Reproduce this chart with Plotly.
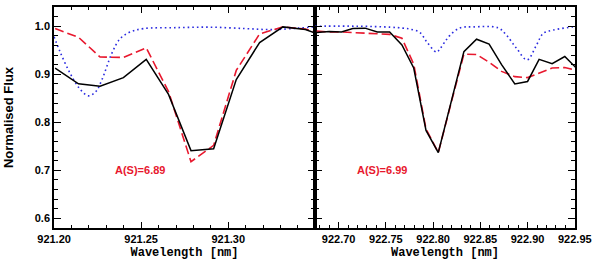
import plotly.graph_objects as go

# ---- data: left panel (921.2 nm line) ----
wl_left = [921.2006, 921.2140, 921.2264, 921.2398, 921.2529, 921.2657, 921.2786,
           921.2916, 921.3046, 921.3180, 921.3314, 921.3443, 921.3574]
obs_left = [0.9126, 0.880, 0.875, 0.893, 0.931, 0.858, 0.741,
            0.745, 0.889, 0.966, 0.9986, 0.993, 0.976]
syn_left = [0.995, 0.977, 0.936, 0.935, 0.955, 0.864, 0.718,
            0.752, 0.908, 0.984, 0.9986, 0.994, 0.980]
tel_wl_left = [921.2000, 921.2034, 921.2092, 921.2149, 921.2197, 921.2240, 921.2274,
               921.2332, 921.2379, 921.2437, 921.2513, 921.2700, 921.2900, 921.3100,
               921.3250, 921.3400, 921.3500]
tel_left = [0.978, 0.947, 0.902, 0.869, 0.855, 0.864, 0.888,
            0.944, 0.974, 0.988, 0.995, 0.997, 0.998, 0.995,
            0.993, 0.996, 0.999]

# ---- data: right panel (922.8 nm line) ----
wl_right = [922.6768, 922.6900, 922.7030, 922.7150, 922.7280, 922.7410, 922.7540,
            922.7670, 922.7795, 922.7925, 922.8055, 922.8196, 922.8326, 922.8460,
            922.8593, 922.8725, 922.8865, 922.9000, 922.9122, 922.9260, 922.9394,
            922.9525]
obs_right = [0.987, 0.989, 0.988, 0.995, 0.996, 0.988, 0.988,
             0.961, 0.913, 0.783, 0.737, 0.844, 0.947, 0.973,
             0.963, 0.920, 0.880, 0.885, 0.931, 0.922, 0.937,
             0.911]
syn_right = [0.990, 0.988, 0.988, 0.987, 0.986, 0.984, 0.983,
             0.975, 0.921, 0.786, 0.737, 0.844, 0.942, 0.941,
             0.925, 0.906, 0.895, 0.893, 0.902, 0.913, 0.914,
             0.908]
tel_wl_right = [922.6750, 922.7200, 922.7550, 922.7680, 922.7755, 922.7860, 922.7931,
                922.8037, 922.8072, 922.8120, 922.8178, 922.8284, 922.8424, 922.8689,
                922.8778, 922.8883, 922.8995, 922.9095, 922.9165, 922.9270, 922.9482,
                922.9510]
tel_right = [1.000, 1.000, 0.998, 0.996, 0.994, 0.987, 0.968,
             0.946, 0.953, 0.966, 0.981, 0.9965, 0.9986, 0.9965,
             0.981, 0.954, 0.930, 0.961, 0.985, 0.992, 0.9986,
             0.999]

labels = ["A(S)=6.89", "A(S)=6.99"]
label_pos = [(921.234, 0.700), (922.7173, 0.700)]

BLUE = "#2b2be0"
RED = "#e8182e"
tickfont = dict(family="Liberation Sans, Arial, sans-serif", size=11, color="black", weight="bold")
titlefont = dict(family="Liberation Mono, Courier New, monospace", size=12, color="black", weight="bold")

fig = go.Figure()
for xa, ya, wl, obs, syn, twl, tel in [
    ("x", "y", wl_left, obs_left, syn_left, tel_wl_left, tel_left),
    ("x2", "y2", wl_right, obs_right, syn_right, tel_wl_right, tel_right),
]:
    fig.add_trace(go.Scatter(x=twl, y=tel, mode="lines", xaxis=xa, yaxis=ya,
                             line=dict(color=BLUE, width=1.6, dash="1.6px,3px", shape="spline"),
                             showlegend=False))
    fig.add_trace(go.Scatter(x=wl, y=syn, mode="lines", xaxis=xa, yaxis=ya,
                             line=dict(color=RED, width=1.6, dash="9px,4px"),
                             showlegend=False))
    fig.add_trace(go.Scatter(x=wl, y=obs, mode="lines", xaxis=xa, yaxis=ya,
                             line=dict(color="black", width=1.5),
                             showlegend=False))

common_x = dict(showline=True, linecolor="black", linewidth=1.5, mirror="allticks",
                ticks="inside", ticklen=6, tickwidth=1, tickcolor="black",
                showgrid=False, zeroline=False, tickformat=".2f", dtick=0.05,
                tickfont=tickfont, title=dict(text="Wavelength [nm]", font=titlefont, standoff=4),
                minor=dict(ticks="inside", ticklen=3, tickwidth=1, dtick=0.01, tickcolor="black", showgrid=False))
common_y = dict(showline=True, linecolor="black", linewidth=1.5, mirror="allticks",
                ticks="inside", ticklen=7, tickwidth=1, tickcolor="black",
                showgrid=False, zeroline=False, range=[0.58, 1.04], dtick=0.1, tick0=0.6,
                tickformat=".1f", tickfont=tickfont,
                minor=dict(ticks="inside", ticklen=4, tickwidth=1, dtick=0.02, tick0=0.6,
                           tickcolor="black", showgrid=False))

split = 261 / 521
fig.update_layout(
    width=600, height=263,
    margin=dict(l=54, r=25, t=5, b=35),
    paper_bgcolor="white", plot_bgcolor="white",
    xaxis=dict(common_x, domain=[0, split], range=[921.19995, 921.3498], tick0=921.20, anchor="y"),
    xaxis2=dict(common_x, domain=[split, 1], range=[922.675, 922.9502], tick0=922.70, anchor="y2"),
    yaxis=dict(common_y, anchor="x",
               title=dict(text="Normalised Flux",
                          font=dict(family="Liberation Sans, Arial, sans-serif", size=13,
                                    color="black", weight="bold"), standoff=18)),
    yaxis2=dict(common_y, anchor="x2", showticklabels=False),
)

for (lx, ly), txt, xr, yr in zip(label_pos, labels, ["x", "x2"], ["y", "y2"]):
    fig.add_annotation(x=lx, y=ly, xref=xr, yref=yr, text=txt, showarrow=False,
                       xanchor="left", yanchor="middle",
                       font=dict(family="Liberation Sans, Arial, sans-serif", size=11,
                                 color=RED, weight="bold"))

fig.write_html("out.html", config={"displayModeBar": False},
               post_script="document.body.style.margin='0';")
